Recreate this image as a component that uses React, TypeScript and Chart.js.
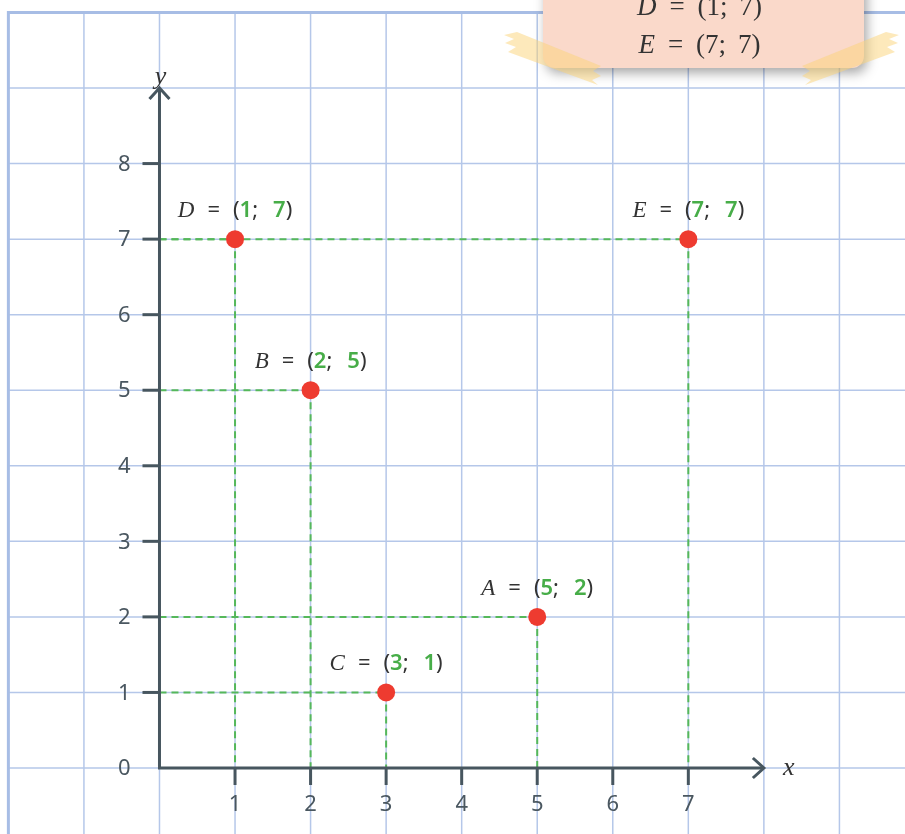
import React, { useEffect, useRef } from 'react';
import { Chart, registerables } from 'chart.js';

Chart.register(...registerables);

// ---- data ----
const pointNames = ['A', 'B', 'C', 'D', 'E'];
const pointX = [5, 2, 3, 1, 7];
const pointY = [2, 5, 1, 7, 7];
const xTickValues = [1, 2, 3, 4, 5, 6, 7];
const yTickValues = [1, 2, 3, 4, 5, 6, 7, 8];
const yLabelValues = [0, 1, 2, 3, 4, 5, 6, 7, 8];
const xRange = [-2.111, 9.868];
const yRange = [-0.8736, 10.165];
const xArrowEnd = 8;
const yArrowEnd = 9;
const paperLeft = -2;
const paperTop = 10;
const noteLines = ['A', 'B', 'C', 'D', 'E'];

// ---- styles ----
const GRID = '#b5c7e9';
const FRAME = '#a7bde5';
const AXIS = '#47565f';
const TICK_TEXT = '#4a5760';
const GREEN = '#47ad48';
const GUIDE = '#55b85a';
const RED = '#ee3b30';
const DARK = '#333333';
const SANS = '"Noto Sans", "DejaVu Sans", sans-serif';
const SERIF = '"Liberation Serif", "DejaVu Serif", serif';

type Piece = { t: string; font: string; color: string; gap?: number };

function drawRich(ctx: CanvasRenderingContext2D, pieces: Piece[], cx: number, baseline: number) {
  const widths = pieces.map((p) => {
    ctx.font = p.font;
    return ctx.measureText(p.t).width;
  });
  let total = 0;
  pieces.forEach((p, i) => (total += widths[i] + (p.gap || 0)));
  let x = cx - total / 2;
  ctx.textAlign = 'left';
  ctx.textBaseline = 'alphabetic';
  pieces.forEach((p, i) => {
    x += p.gap || 0;
    ctx.font = p.font;
    ctx.fillStyle = p.color;
    ctx.fillText(p.t, x, baseline);
    x += widths[i];
  });
}

const paperPlugin = {
  id: 'paper',
  beforeDraw(chart: any) {
    const { ctx } = chart;
    const xs = chart.scales.x;
    const ys = chart.scales.y;
    ctx.save();
    ctx.fillStyle = '#ffffff';
    ctx.fillRect(0, 0, chart.width, chart.height);
    const left = xs.getPixelForValue(paperLeft);
    const top = ys.getPixelForValue(paperTop);
    ctx.strokeStyle = GRID;
    ctx.lineWidth = 1.5;
    for (let v = paperLeft + 1; v <= Math.floor(xs.max); v++) {
      const px = xs.getPixelForValue(v);
      ctx.beginPath();
      ctx.moveTo(px, top);
      ctx.lineTo(px, chart.height);
      ctx.stroke();
    }
    for (let v = Math.ceil(ys.min); v < paperTop; v++) {
      const py = ys.getPixelForValue(v);
      ctx.beginPath();
      ctx.moveTo(left, py);
      ctx.lineTo(chart.width, py);
      ctx.stroke();
    }
    ctx.strokeStyle = FRAME;
    ctx.lineWidth = 3;
    ctx.beginPath();
    ctx.moveTo(left, chart.height);
    ctx.lineTo(left, top);
    ctx.lineTo(chart.width, top);
    ctx.stroke();
    ctx.restore();
  },
  beforeDatasetsDraw(chart: any) {
    const { ctx } = chart;
    const xs = chart.scales.x;
    const ys = chart.scales.y;
    const x0 = xs.getPixelForValue(0);
    const y0 = ys.getPixelForValue(0);
    ctx.save();
    // dashed guides
    ctx.strokeStyle = GUIDE;
    ctx.lineWidth = 2;
    ctx.setLineDash([7, 5]);
    pointX.forEach((vx, i) => {
      const px = xs.getPixelForValue(vx);
      const py = ys.getPixelForValue(pointY[i]);
      ctx.beginPath();
      ctx.moveTo(x0, py);
      ctx.lineTo(px, py);
      ctx.stroke();
      ctx.beginPath();
      ctx.moveTo(px, py);
      ctx.lineTo(px, y0);
      ctx.stroke();
    });
    ctx.setLineDash([]);
    // axes
    ctx.strokeStyle = AXIS;
    ctx.lineWidth = 3;
    ctx.lineCap = 'butt';
    const xEnd = xs.getPixelForValue(xArrowEnd);
    const yEnd = ys.getPixelForValue(yArrowEnd);
    ctx.beginPath();
    ctx.moveTo(x0, y0);
    ctx.lineTo(xEnd, y0);
    ctx.moveTo(x0, y0 + 1.5);
    ctx.lineTo(x0, yEnd);
    ctx.stroke();
    // arrow heads
    ctx.lineJoin = 'miter';
    ctx.beginPath();
    ctx.moveTo(xEnd - 11, y0 - 10);
    ctx.lineTo(xEnd, y0);
    ctx.lineTo(xEnd - 11, y0 + 10);
    ctx.stroke();
    ctx.beginPath();
    ctx.moveTo(x0 - 10, yEnd + 11);
    ctx.lineTo(x0, yEnd);
    ctx.lineTo(x0 + 10, yEnd + 11);
    ctx.stroke();
    // tick marks
    xTickValues.forEach((v) => {
      const px = xs.getPixelForValue(v);
      ctx.beginPath();
      ctx.moveTo(px, y0);
      ctx.lineTo(px, y0 + 17);
      ctx.stroke();
    });
    yTickValues.forEach((v) => {
      const py = ys.getPixelForValue(v);
      ctx.beginPath();
      ctx.moveTo(x0, py);
      ctx.lineTo(x0 - 17, py);
      ctx.stroke();
    });
    // tick labels
    ctx.fillStyle = TICK_TEXT;
    ctx.font = `22px ${SANS}`;
    ctx.textAlign = 'center';
    ctx.textBaseline = 'middle';
    xTickValues.forEach((v) => {
      ctx.fillText(String(v), xs.getPixelForValue(v), y0 + 37);
    });
    ctx.textAlign = 'right';
    yLabelValues.forEach((v) => {
      ctx.fillText(String(v), x0 - 29, ys.getPixelForValue(v) + 1);
    });
    // axis names
    ctx.fillStyle = DARK;
    ctx.font = `italic 26px ${SERIF}`;
    ctx.textAlign = 'center';
    ctx.textBaseline = 'alphabetic';
    ctx.fillText('y', x0 + 1, yEnd - 4);
    ctx.fillText('x', xEnd + 25, y0 + 7);
    ctx.restore();
  },
  afterDatasetsDraw(chart: any) {
    const { ctx } = chart;
    const xs = chart.scales.x;
    const ys = chart.scales.y;
    ctx.save();
    const sans = `22px ${SANS}`;
    const num = `600 22px ${SANS}`;
    pointNames.forEach((name, i) => {
      const px = xs.getPixelForValue(pointX[i]);
      const py = ys.getPixelForValue(pointY[i]);
      drawRich(
        ctx,
        [
          { t: name, font: `italic 23px ${SERIF}`, color: DARK },
          { t: '=', font: sans, color: DARK, gap: 13 },
          { t: '(', font: sans, color: DARK, gap: 13 },
          { t: String(pointX[i]), font: num, color: GREEN },
          { t: ';', font: sans, color: DARK },
          { t: String(pointY[i]), font: num, color: GREEN, gap: 15 },
          { t: ')', font: sans, color: DARK },
        ],
        px,
        py - 22
      );
    });
    ctx.restore();
  },
  afterDraw(chart: any) {
    const { ctx } = chart;
    ctx.save();
    // note box
    const bx = 543, by = -160, bw = 321, bh = 228, r = 12;
    ctx.shadowColor = 'rgba(0,0,0,0.35)';
    ctx.shadowBlur = 12;
    ctx.shadowOffsetX = 3;
    ctx.shadowOffsetY = 5;
    ctx.fillStyle = '#fad9ca';
    ctx.beginPath();
    ctx.roundRect(bx, by, bw, bh, r);
    ctx.fill();
    ctx.shadowColor = 'transparent';
    // note text
    const serif = `27px ${SERIF}`;
    const lastBaseline = 53;
    noteLines.forEach((name, k) => {
      const i = pointNames.indexOf(name);
      const baseline = lastBaseline - (noteLines.length - 1 - k) * 38;
      drawRich(
        ctx,
        [
          { t: name, font: `italic 27px ${SERIF}`, color: DARK },
          { t: '=', font: serif, color: DARK, gap: 13 },
          { t: '(', font: serif, color: DARK, gap: 13 },
          { t: String(pointX[i]), font: serif, color: DARK },
          { t: ';', font: serif, color: DARK },
          { t: String(pointY[i]), font: serif, color: DARK, gap: 12 },
          { t: ')', font: serif, color: DARK },
        ],
        699.5,
        baseline
      );
    });
    // tape pieces
    ctx.fillStyle = 'rgba(251, 212, 120, 0.5)';
    const tapeL = [
      [517, 32], [601, 66], [593, 71], [601, 76], [592, 80], [598, 85],
      [508, 52], [516, 47], [505, 43], [514, 39], [504, 35],
    ];
    const tapeR = tapeL.map(([x, y]) => [1403 - x, y]);
    [tapeL, tapeR].forEach((poly) => {
      ctx.beginPath();
      poly.forEach(([x, y], j) => (j === 0 ? ctx.moveTo(x, y) : ctx.lineTo(x, y)));
      ctx.closePath();
      ctx.fill();
    });
    ctx.restore();
  },
};

export default function App() {
  const ref = useRef<HTMLCanvasElement>(null);
  useEffect(() => {
    const chart = new Chart(ref.current as HTMLCanvasElement, {
      type: 'scatter',
      data: {
        datasets: [
          {
            data: pointX.map((x, i) => ({ x, y: pointY[i] })),
            pointRadius: 9,
            pointHoverRadius: 9,
            backgroundColor: RED,
            borderWidth: 0,
          },
        ],
      },
      options: {
        animation: false,
        responsive: false,
        devicePixelRatio: 1,
        events: [],
        layout: { padding: 0, autoPadding: false },
        plugins: { legend: { display: false }, tooltip: { enabled: false } },
        scales: {
          x: { type: 'linear', min: xRange[0], max: xRange[1], display: false },
          y: { type: 'linear', min: yRange[0], max: yRange[1], display: false },
        },
      },
      plugins: [paperPlugin],
    } as any);
    return () => chart.destroy();
  }, []);
  return (
    <div style={{ position: 'fixed', left: 0, top: 0, width: 905, height: 834, background: '#fff' }}>
      <canvas ref={ref} width={905} height={834} style={{ display: 'block', width: 905, height: 834 }} />
    </div>
  );
}
